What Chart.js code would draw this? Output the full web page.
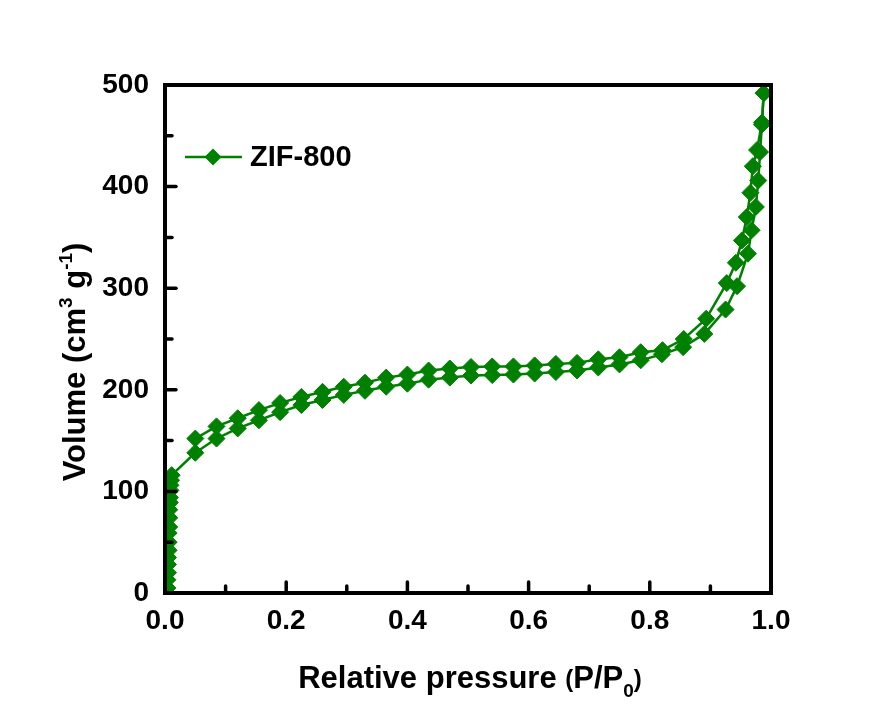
<!DOCTYPE html>
<html>
<head>
<meta charset="utf-8">
<script src="https://cdn.jsdelivr.net/npm/chart.js@4.4.1/dist/chart.umd.min.js"></script>
<style>
  html, body { margin: 0; padding: 0; background: #ffffff; }
  .chart { width: 880px; height: 706px; }
</style>
</head>
<body>
<div class="chart"><canvas id="chart" width="880" height="706"></canvas></div>
<script>
// adsorption branch (P/P0, volume)
const adsP = [0.004, 0.004, 0.005, 0.005, 0.005, 0.006, 0.006, 0.006, 0.007, 0.007, 0.007, 0.008, 0.008, 0.009, 0.009, 0.010, 0.011,
    0.05, 0.085, 0.12, 0.155, 0.19, 0.225, 0.26, 0.295, 0.33, 0.365, 0.40, 0.435, 0.47, 0.505, 0.54, 0.575, 0.61, 0.645, 0.68,
    0.715, 0.75, 0.785, 0.82, 0.855, 0.89, 0.925, 0.944, 0.962, 0.968, 0.975, 0.979, 0.982, 0.985, 0.988];
const adsV = [5, 13, 20, 28, 35, 42, 50, 59, 65, 74, 82, 89, 94, 101, 106, 111, 116,
    138, 152, 162, 170, 178, 185, 190, 195, 199, 203, 206, 210, 212, 214, 214.5, 215, 216, 217.5, 219,
    222, 225, 229, 235, 242, 255, 279, 302, 334, 357, 380, 406, 434, 461, 492];

// desorption branch
const desP = [0.988, 0.985, 0.977, 0.970, 0.966, 0.960, 0.952, 0.942, 0.927, 0.893, 0.856, 0.821, 0.785, 0.75, 0.715, 0.68,
    0.645, 0.61, 0.575, 0.54, 0.505, 0.47, 0.435, 0.40, 0.365, 0.33, 0.295, 0.26, 0.225, 0.19, 0.155, 0.12, 0.085, 0.05];
const desV = [492, 463, 436, 420, 394, 370, 347, 325, 305, 270, 250, 239, 237, 232, 230, 226.5,
    225.5, 224, 223, 223, 222.5, 221, 219, 215, 212, 207, 203, 198, 193, 187, 180, 172, 164, 152];

const xTicks = [0, 0.2, 0.4, 0.6, 0.8, 1.0];
const yTicks = [0, 100, 200, 300, 400, 500];

const green = "#008000";
const fontName = "'Liberation Sans', Arial, sans-serif";

const toPoints = (xs, ys) => xs.map((x, i) => ({ x: x, y: ys[i] }));

// draw a run of text pieces, each with its own size and vertical shift
function drawRich(ctx, parts, x, y, align) {
    let total = 0;
    parts.forEach((p) => {
        ctx.font = "bold " + p.size + "px " + fontName;
        p.w = ctx.measureText(p.text).width;
        total += p.w;
    });
    let cx = align === "center" ? x - total / 2 : x;
    parts.forEach((p) => {
        ctx.font = "bold " + p.size + "px " + fontName;
        ctx.fillText(p.text, cx, y + (p.dy || 0));
        cx += p.w;
    });
}

const framePlugin = {
    id: "frameAndTicks",
    afterDatasetsDraw: (chart) => {
        const { ctx, chartArea } = chart;
        const xs = chart.scales.x;
        const ys = chart.scales.y;
        ctx.save();
        ctx.strokeStyle = "#000";
        ctx.lineWidth = 3.5;
        ctx.lineCap = "round";
        // inward ticks on bottom and left
        for (let i = 0; i <= 10; i++) {
            const v = i / 10;
            const px = xs.getPixelForValue(v);
            const len = i % 2 === 0 ? 11 : 7;
            ctx.beginPath();
            ctx.moveTo(px, chartArea.bottom);
            ctx.lineTo(px, chartArea.bottom - len);
            ctx.stroke();
        }
        for (let i = 0; i <= 10; i++) {
            const v = i * 50;
            const py = ys.getPixelForValue(v);
            const len = i % 2 === 0 ? 11 : 7;
            ctx.beginPath();
            ctx.moveTo(chartArea.left, py);
            ctx.lineTo(chartArea.left + len, py);
            ctx.stroke();
        }
        ctx.lineCap = "butt";
        ctx.lineWidth = 4;
        ctx.strokeRect(chartArea.left, chartArea.top, chartArea.right - chartArea.left, chartArea.bottom - chartArea.top);

        // legend
        const ly = 157;
        ctx.strokeStyle = green;
        ctx.lineWidth = 2.5;
        ctx.beginPath();
        ctx.moveTo(185, ly);
        ctx.lineTo(242, ly);
        ctx.stroke();
        ctx.fillStyle = green;
        ctx.beginPath();
        ctx.moveTo(213 - 8.5, ly);
        ctx.lineTo(213, ly - 8.5);
        ctx.lineTo(213 + 8.5, ly);
        ctx.lineTo(213, ly + 8.5);
        ctx.closePath();
        ctx.fill();
        ctx.fillStyle = "#000";
        ctx.textBaseline = "middle";
        ctx.textAlign = "left";
        ctx.font = "bold 29px " + fontName;
        ctx.fillText("ZIF-800", 250, ly + 1);

        // axis titles
        ctx.textBaseline = "alphabetic";
        drawRich(ctx, [
            { text: "Relative pressure ", size: 31 },
            { text: "(", size: 24, dy: -1 },
            { text: "P/P", size: 31 },
            { text: "0", size: 19, dy: 9 },
            { text: ")", size: 24, dy: -1 },
        ], 470, 688, "center");

        ctx.translate(85, 362);
        ctx.rotate(-Math.PI / 2);
        drawRich(ctx, [
            { text: "Volume (cm", size: 31 },
            { text: "3", size: 19, dy: -13 },
            { text: " g", size: 31 },
            { text: "-1", size: 19, dy: -13 },
            { text: ")", size: 31 },
        ], 0, 0, "center");
        ctx.restore();
    },
};

const dsStyle = {
    showLine: true,
    borderColor: green,
    backgroundColor: green,
    borderWidth: 2.5,
    pointStyle: "rectRot",
    pointRadius: 8.5,
    pointBorderWidth: 1,
    pointBackgroundColor: green,
    pointBorderColor: green,
    tension: 0,
};

new Chart(document.getElementById("chart"), {
    type: "scatter",
    data: {
        datasets: [
            Object.assign({ label: "Adsorption", data: toPoints(adsP, adsV) }, dsStyle),
            Object.assign({ label: "Desorption", data: toPoints(desP, desV) }, dsStyle),
        ],
    },
    options: {
        responsive: false,
        animation: false,
        layout: {
            padding: { top: 85, right: 109, left: 0, bottom: 0 },
        },
        plugins: {
            legend: { display: false },
            tooltip: { enabled: false },
        },
        scales: {
            x: {
                type: "linear",
                min: 0,
                max: 1,
                afterFit: (scale) => { scale.height = 113; },
                afterBuildTicks: (scale) => { scale.ticks = xTicks.map((v) => ({ value: v })); },
                grid: { display: false },
                border: { display: false },
                ticks: {
                    padding: 3,
                    color: "#000",
                    font: { family: fontName, size: 28, weight: "bold" },
                    callback: (v) => Number(v).toFixed(1),
                },
            },
            y: {
                type: "linear",
                min: 0,
                max: 500,
                afterFit: (scale) => { scale.width = 165; },
                afterBuildTicks: (scale) => { scale.ticks = yTicks.map((v) => ({ value: v })); },
                grid: { display: false },
                border: { display: false },
                ticks: {
                    padding: 8,
                    color: "#000",
                    font: { family: fontName, size: 28, weight: "bold" },
                },
            },
        },
    },
    plugins: [framePlugin],
});
</script>
</body>
</html>
